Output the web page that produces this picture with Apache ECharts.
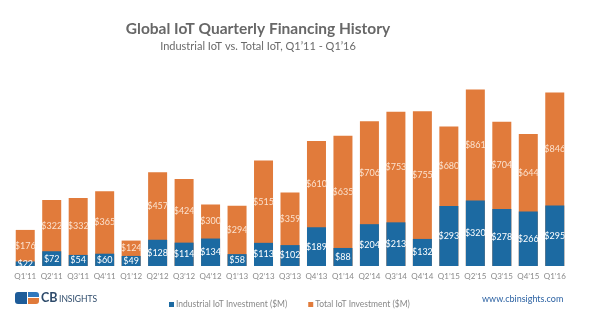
<!DOCTYPE html>
<html>
<head>
<meta charset="utf-8">
<script src="https://cdn.jsdelivr.net/npm/echarts@6/dist/echarts.min.js"></script>
<style>
  html, body { margin: 0; padding: 0; background: #ffffff; }
  #chart { width: 600px; height: 322px; }
</style>
</head>
<body>
<div id="chart"></div>
<script>
// Quarterly IoT financing, $M
const quarters = ["Q1’11","Q2’11","Q3’11","Q4’11","Q1’12","Q2’12","Q3’12","Q4’12","Q1’13","Q2’13","Q3’13","Q4’13","Q1’14","Q2’14","Q3’14","Q4’14","Q1’15","Q2’15","Q3’15","Q4’15","Q1’16"];
const totalIoT = [176, 322, 332, 365, 124, 457, 424, 300, 294, 515, 359, 610, 635, 706, 753, 755, 680, 861, 704, 644, 846];
const industrialIoT = [22, 72, 54, 60, 49, 128, 114, 134, 58, 113, 102, 189, 88, 204, 213, 132, 293, 320, 278, 266, 295];

const BLUE = '#1c6aa2';
const ORANGE = '#e17b3b';
const FONT = 'Lato, "Open Sans", sans-serif';

// Transparent stack used only to centre the total label on the visible orange part
const orangeGap = totalIoT.map((t, i) => t - industrialIoT[i]);

const chart = echarts.init(document.getElementById('chart'), null, { renderer: 'canvas' });

chart.setOption({
  animation: false,
  backgroundColor: '#ffffff',
  title: [
    {
      text: 'Global IoT Quarterly Financing History',
      left: 253, top: 16, textAlign: 'center',
      textStyle: { fontFamily: FONT, fontSize: 15.5, fontWeight: 'bold', color: '#676767' }
    },
    {
      text: 'Industrial IoT vs. Total IoT, Q1’11 - Q1’16',
      left: 253, top: 36, textAlign: 'center',
      textStyle: { fontFamily: FONT, fontSize: 11, fontWeight: 'normal', color: '#6a6a6a' }
    }
  ],
  legend: {
    data: ['Industrial IoT Investment ($M)', 'Total IoT Investment ($M)'],
    left: 164, top: 295,
    itemWidth: 5, itemHeight: 5, itemGap: 21,
    icon: 'rect',
    selectedMode: false,
    textStyle: { fontFamily: FONT, fontSize: 8.5, color: '#888888', padding: [0, 0, 0, -3] }
  },
  grid: { left: 12, right: 32, top: 61, bottom: 56, containLabel: false },
  xAxis: {
    type: 'category',
    data: quarters,
    axisLine: { show: false },
    axisTick: { show: false },
    axisLabel: { interval: 0, margin: 6, fontFamily: FONT, fontSize: 8, color: '#8a8a8a' }
  },
  yAxis: {
    type: 'value', min: 0, max: 1000, show: false,
    splitLine: { show: false }
  },
  series: [
    {
      name: 'Total IoT Investment ($M)',
      type: 'bar',
      data: totalIoT,
      barWidth: 19,
      barGap: '-100%',
      itemStyle: { color: ORANGE },
      label: { show: false }
    },
    {
      name: 'Industrial IoT Investment ($M)',
      type: 'bar',
      data: industrialIoT,
      barWidth: 19,
      barGap: '-100%',
      itemStyle: { color: BLUE },
      label: {
        show: true, position: 'inside',
        formatter: p => '$' + p.value,
        fontFamily: FONT, fontSize: 9, color: '#ffffff'
      }
    },
    {
      name: 'base',
      type: 'bar',
      stack: 'lbl',
      data: industrialIoT,
      barWidth: 19,
      barGap: '-100%',
      silent: true,
      itemStyle: { color: 'rgba(0,0,0,0)' }
    },
    {
      name: 'gap',
      type: 'bar',
      stack: 'lbl',
      data: orangeGap,
      barWidth: 19,
      barGap: '-100%',
      silent: true,
      itemStyle: { color: 'rgba(0,0,0,0)' },
      label: {
        show: true, position: 'inside',
        formatter: p => '$' + totalIoT[p.dataIndex],
        fontFamily: FONT, fontSize: 9, color: '#fbe2cf'
      }
    }
  ],
  graphic: [
    // CB Insights logo mark
    { type: 'rect', shape: { x: 15, y: 292, width: 12, height: 12, r: [3, 0, 0, 3] }, style: { fill: '#1d5c99' } },
    { type: 'rect', shape: { x: 28, y: 292, width: 11, height: 5, r: [0, 3, 0, 0] }, style: { fill: '#2f78bd' } },
    { type: 'rect', shape: { x: 28, y: 298, width: 11, height: 6, r: [0, 0, 3, 0] }, style: { fill: '#e07a3a' } },
    { type: 'text', x: 41, y: 298, style: { text: 'CB', fontFamily: FONT, fontSize: 12.5, fontWeight: 'bold', fill: '#2d4a6a', verticalAlign: 'middle' } },
    { type: 'text', x: 59, y: 299, style: { text: 'INSIGHTS', fontFamily: FONT, fontSize: 8.5, fill: '#2d4a6a', verticalAlign: 'middle' } },
    // site address
    { type: 'text', x: 482, y: 299, style: { text: 'www.cbinsights.com', fontFamily: FONT, fontSize: 9, fill: '#2c62a3', verticalAlign: 'middle' } }
  ]
});
</script>
</body>
</html>
